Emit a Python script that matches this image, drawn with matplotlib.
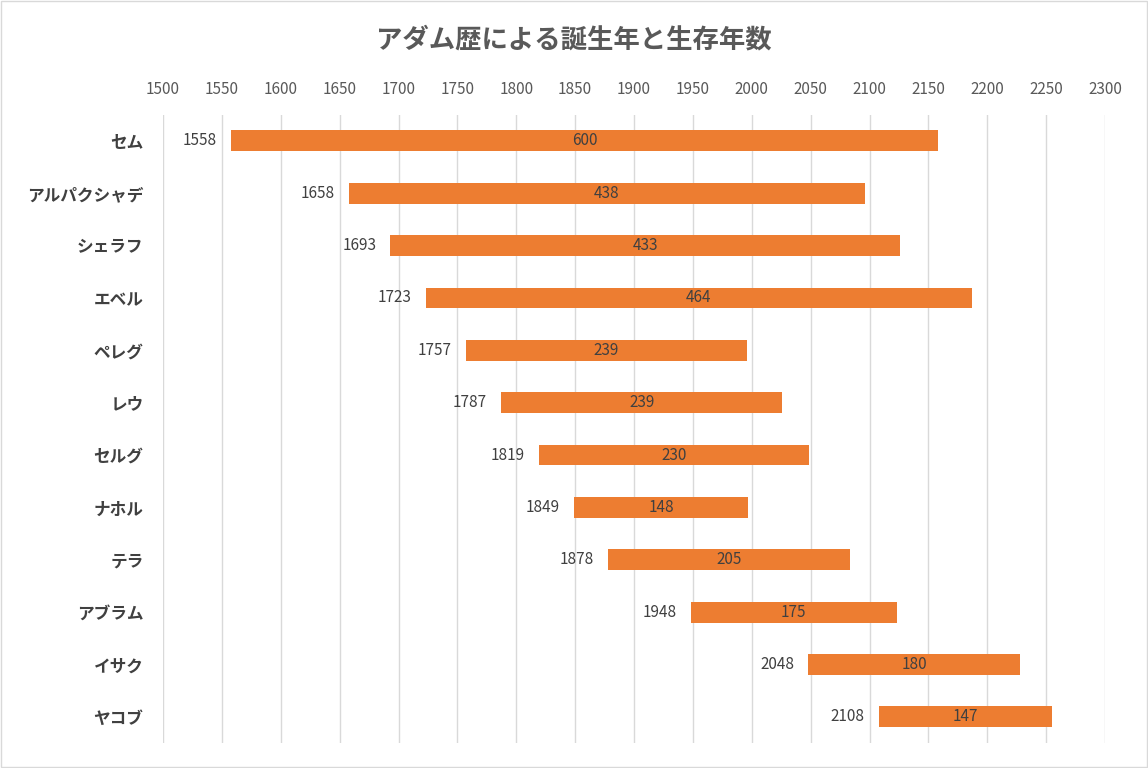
import matplotlib.pyplot as plt
import numpy as np

plt.rcParams['font.family'] = ['Noto Sans CJK JP', 'DejaVu Sans']

names = ['セム', 'アルパクシャデ', 'シェラフ', 'エベル', 'ペレグ', 'レウ',
         'セルグ', 'ナホル', 'テラ', 'アブラム', 'イサク', 'ヤコブ']
births = [1558, 1658, 1693, 1723, 1757, 1787, 1819, 1849, 1878, 1948, 2048, 2108]
lifespans = [600, 438, 433, 464, 239, 239, 230, 148, 205, 175, 180, 147]

fig = plt.figure(figsize=(11.48, 7.68), dpi=100)
ax = fig.add_axes([0.142, 0.0326, 0.8206, 0.818])
y = np.arange(len(names))

ax.barh(y, lifespans, left=births, height=0.4, color='#ED7D31', zorder=3)
for i in range(len(names)):
    ax.text(births[i] - 12, y[i], str(births[i]), ha='right', va='center',
            fontsize=11, color='#404040')
    ax.text(births[i] + lifespans[i] / 2, y[i], str(lifespans[i]), ha='center',
            va='center', fontsize=11, color='#404040', zorder=4)

ax.set_xlim(1500, 2300)
ax.set_xticks(range(1500, 2301, 50))
ax.set_ylim(len(names) - 0.5, -0.5)
ax.set_yticks(y)
ax.set_yticklabels(names, fontsize=12, fontweight='bold', color='#404040')
ax.xaxis.tick_top()
ax.tick_params(axis='x', labelsize=11, labelcolor='#595959', length=0, pad=12)
ax.tick_params(axis='y', length=0, pad=14)
ax.grid(axis='x', color='#D9D9D9', linewidth=1, zorder=0)
for s in ax.spines.values():
    s.set_visible(False)

fig.text(0.5, 0.948, 'アダム歴による誕生年と生存年数', ha='center', va='center',
         fontsize=19, fontweight='bold', color='#595959')
fig.patches.append(plt.Rectangle((0.001, 0.001), 0.998, 0.998, transform=fig.transFigure,
                                 fill=False, edgecolor='#D9D9D9', linewidth=1))
fig.savefig('out.png', dpi=100)
